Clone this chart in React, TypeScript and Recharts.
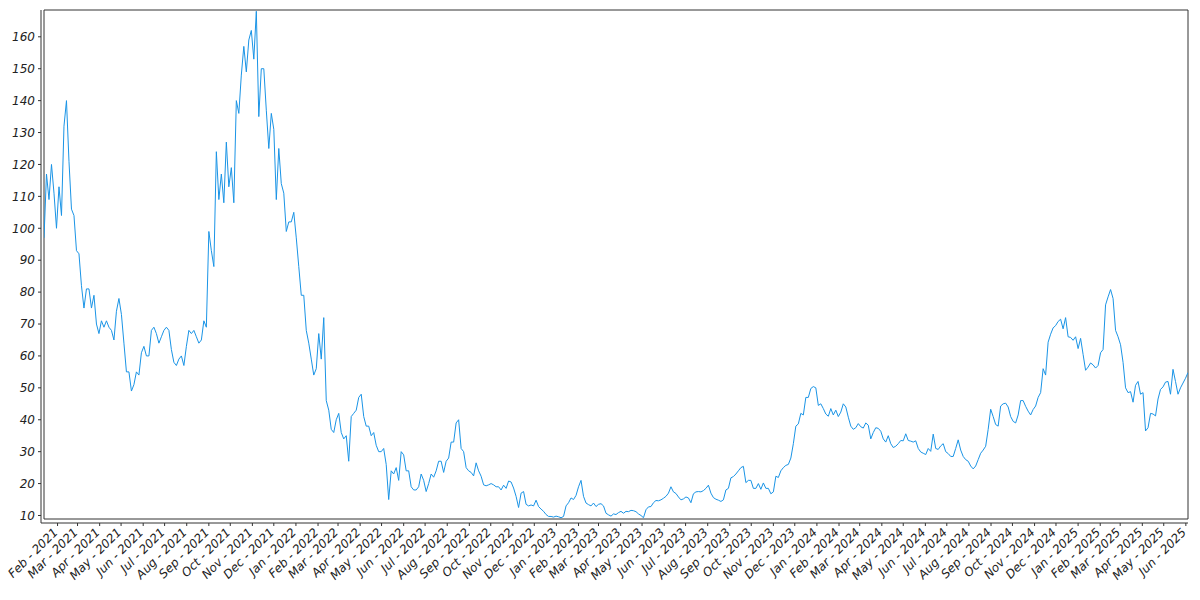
import { LineChart, Line, XAxis, YAxis, ReferenceLine } from 'recharts'

// price samples, one every 3.5 days starting 13 Jan 2021
const START_DATE = Date.UTC(2021, 0, 13)
const STEP_DAYS = 3.5
const DAY_MS = 86400000

const prices2021 = [
    97, 117, 109, 120, 111, 100, 113, 104, 132, 140,
    121, 106, 104, 93, 92, 82, 75, 81, 81, 75,
    79, 70, 67, 71, 69, 71, 69, 68, 65, 74,
    78, 73, 64, 55, 55, 49, 51, 55, 54, 61,
    63, 60, 60, 68, 69, 67, 64, 66, 68, 69,
    68, 62, 58, 57, 59, 60, 57, 63, 68, 67,
    68, 66, 64, 65, 71, 69, 99, 93, 88, 124,
    109, 117, 108, 127, 113, 119, 108, 140, 136, 148,
    157, 149, 159, 162, 153, 168, 135, 150, 150, 137,
    125, 136, 131, 109, 125, 114, 111, 99, 102, 102,
    105
]

const prices2022 = [
    97, 88, 79, 79, 68, 64, 59, 54, 56,
    67, 59, 72, 46, 43, 37, 36, 40, 42, 36,
    34, 35, 27, 41, 42, 43, 47, 48, 41, 38,
    38, 35, 36, 32, 30, 30, 31, 26, 15, 24,
    23, 25, 21, 30, 29, 24, 24, 19, 18, 18,
    19, 23, 21, 17.5, 20, 23, 22, 24, 27, 27,
    23.5, 27, 28, 33, 33, 39, 40, 31, 30, 25,
    24, 23.5, 22.4, 26.5, 24, 22.3, 19.6, 19.3, 19.6, 20,
    19.6, 19, 19, 18, 19.5, 18.5, 20.8, 20.5, 18.6, 16,
    12.5, 17, 17.5, 13.5, 13, 13.3, 13, 14.8, 12.8, 12,
    11.3, 10.3, 9.7, 9.7, 9.5, 9.8
]

const prices2023 = [
    9.6, 9.3, 9.7, 13,
    14, 15.5, 15, 16.3, 19, 21, 16, 13.9, 13.4, 13,
    13.9, 12.8, 13.5, 13.7, 13, 10.7, 10.2, 9.8, 10.5, 10.3,
    10.9, 11.3, 10.7, 11.3, 11.2, 11.6, 11.5, 11.2, 10.5, 10,
    9.3, 11.8, 12.7, 12.8, 14, 14.7, 14.6, 14.9, 15.4, 16,
    17, 19, 17.4, 16.9, 15.8, 14.9, 15.2, 15.8, 15.5, 14,
    16.8, 17.4, 17.5, 17.4, 17.8, 18.5, 19.5, 17, 15.6, 15.1,
    14.8, 14.4, 14.9, 18, 18.5, 21.8, 22.2, 23, 24, 25,
    25.4, 20.3, 21, 21, 18.5, 18.5, 20, 18.2, 20.2, 18.5,
    18.5, 16.8, 17.4, 22.3, 21.9, 24, 25, 25.7, 26, 28,
    32.5, 38, 38.7, 42, 41.5, 47, 47, 49.8, 50.4, 50
]

const prices2024 = [
    44.5, 45, 43.5, 41.8, 41.1, 43.5, 41.5, 43, 41, 42.4,
    45, 44, 40.8, 38, 37, 37.5, 38.8, 37.8, 37.4, 39,
    38.3, 34, 36, 37.5, 37.3, 36.4, 34, 33, 35, 32.5,
    31.3, 31.7, 32.5, 33.5, 33.4, 35.6, 33.5, 33.3, 33, 33.4,
    31, 29.9, 29.5, 29.1, 31, 30.1, 35.5, 31, 30.7, 31.8,
    32.5, 30, 29.4, 28.5, 28.5, 31, 33.7, 30.5, 28.5, 27.5,
    27, 25.5, 24.6, 25.5, 27.5, 29.5, 30.5, 31.7, 37, 43.3,
    41, 38.5, 38, 44.3, 45, 45.2, 44, 41, 39.5, 39,
    41.5, 46, 46, 44.2, 42.7, 41.5, 43.2, 44.3, 47, 48.5,
    56, 54, 64.3, 66.8, 68.8, 69.5, 70.8, 71.5, 68.5, 72,
    66, 65.8, 64.9, 66
]

const prices2025 = [
    62.3, 65.5, 60.5, 55.5, 56.5, 57.8,
    57.2, 56.2, 57, 61, 62, 76, 78.5, 80.8, 78, 68,
    66, 63.5, 58, 50, 48.5, 48.8, 45.5, 50.8, 52, 48,
    48.5, 36.5, 37.5, 42, 41.8, 41.2, 46.5, 49.5, 50.3, 51.8,
    52, 48, 55.8, 52, 48, 50, 51.5, 53, 54.8
]

const MONTH_NAMES = ['Jan', 'Feb', 'Mar', 'Apr', 'May', 'Jun', 'Jul', 'Aug', 'Sep', 'Oct', 'Nov', 'Dec']
const YEARS = [2021, 2022, 2023, 2024, 2025]
const Y_TICKS = [10, 20, 30, 40, 50, 60, 70, 80, 90, 100, 110, 120, 130, 140, 150, 160]
const Y_MIN = 8.9
const Y_MAX = 168.4

const LINE_COLOR = '#1a94e6'
const FRAME_COLOR = '#333333'
const FONT = '"DejaVu Sans", sans-serif'

const series = [...prices2021, ...prices2022, ...prices2023, ...prices2024, ...prices2025]
const data = series.map((v, i) => ({ t: START_DATE + i * STEP_DAYS * DAY_MS, v }))
const T_MIN = data[0].t
const T_MAX = data[data.length - 1].t

const monthTicks: number[] = []
YEARS.forEach((y) => {
    MONTH_NAMES.forEach((_, m) => {
        const t = Date.UTC(y, m, 1)
        if (t >= T_MIN && t <= T_MAX) monthTicks.push(t)
    })
})

function MonthTick({ x, y, payload }: any) {
    const d = new Date(payload.value)
    const label = `${MONTH_NAMES[d.getUTCMonth()]} - ${d.getUTCFullYear()}`
    const ax = x + 1
    const ay = y + 7
    return (
        <text
            x={ax}
            y={ay}
            transform={`rotate(-45, ${ax}, ${ay})`}
            textAnchor="end"
            fontFamily={FONT}
            fontStyle="italic"
            fontSize={12}
            fill="#222"
        >
            {label}
        </text>
    )
}

export default function App() {
    return (
        <div style={{ position: 'absolute', left: 0, top: 0, width: 1200, height: 600, background: '#fff' }}>
            <LineChart width={1200} height={600} data={data} margin={{ top: 10, right: 12, bottom: 0, left: 0 }}>
                <XAxis
                    dataKey="t"
                    type="number"
                    domain={[T_MIN, T_MAX]}
                    ticks={monthTicks}
                    interval={0}
                    padding={{ left: 3, right: 0 }}
                    height={77}
                    tickSize={3}
                    tickMargin={0}
                    stroke={FRAME_COLOR}
                    tick={MonthTick}
                    allowDataOverflow
                />
                <YAxis
                    type="number"
                    domain={[Y_MIN, Y_MAX]}
                    ticks={Y_TICKS}
                    interval={0}
                    padding={{ top: 0, bottom: 4 }}
                    width={41}
                    tickSize={3}
                    tickMargin={3}
                    stroke={FRAME_COLOR}
                    tick={{ fontFamily: FONT, fontStyle: 'italic', fontSize: 12, fill: '#222' }}
                    allowDataOverflow
                />
                <ReferenceLine segment={[{ x: T_MIN, y: Y_MAX }, { x: T_MAX, y: Y_MAX }]} stroke={FRAME_COLOR} />
                <ReferenceLine segment={[{ x: T_MIN, y: Y_MIN }, { x: T_MAX, y: Y_MIN }]} stroke={FRAME_COLOR} />
                <ReferenceLine segment={[{ x: T_MIN, y: Y_MIN }, { x: T_MIN, y: Y_MAX }]} stroke={FRAME_COLOR} />
                <ReferenceLine segment={[{ x: T_MAX, y: Y_MIN }, { x: T_MAX, y: Y_MAX }]} stroke={FRAME_COLOR} />
                <Line
                    type="linear"
                    dataKey="v"
                    stroke={LINE_COLOR}
                    strokeWidth={1}
                    dot={false}
                    activeDot={false}
                    isAnimationActive={false}
                />
            </LineChart>
        </div>
    )
}
